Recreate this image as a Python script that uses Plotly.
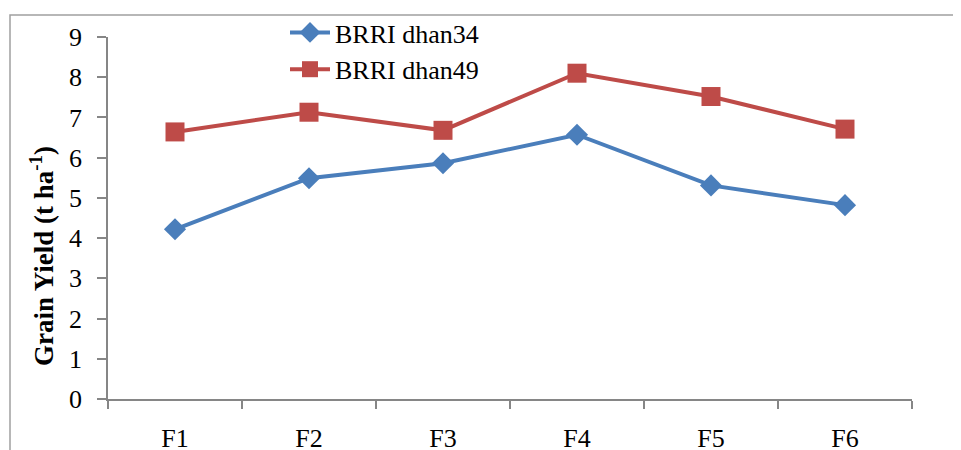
import plotly.graph_objects as go

categories = ["F1", "F2", "F3", "F4", "F5", "F6"]
dhan34 = [4.22, 5.49, 5.86, 6.57, 5.31, 4.82]
dhan49 = [6.64, 7.13, 6.68, 8.10, 7.52, 6.71]
series_names = ["BRRI dhan34", "BRRI dhan49"]
y_title = "<b>Grain Yield (t ha<sup>-1</sup>)</b>"

FONT = "Liberation Serif"
W, H = 961, 450
OX, OY = 8, 8  # page body margin
# desired screen positions of plot area
SX0, SX1, SY0, SY1 = 108, 912, 37, 399
L, T = SX0 - OX, SY0 - OY
R, B = W - (SX1 - OX), H - (SY1 - OY)
pw, ph = W - L - R, H - T - B


def px(sx):
    return (sx - OX - L) / pw


def py(sy):
    return (H - B - (sy - OY)) / ph


fig = go.Figure()
fig.add_trace(go.Scatter(
    x=categories, y=dhan34, name=series_names[0], mode="lines+markers",
    line=dict(color="#4a7ebb", width=4),
    marker=dict(symbol="diamond", size=17, color="#4a7ebb"),
))
fig.add_trace(go.Scatter(
    x=categories, y=dhan49, name=series_names[1], mode="lines+markers",
    line=dict(color="#be4b48", width=4),
    marker=dict(symbol="square", size=19, color="#be4b48"),
))

axis_col = "#868686"
fig.update_xaxes(
    type="category", range=[-0.5, 5.5], showline=True, linecolor=axis_col, linewidth=1.5,
    ticks="outside", tickson="boundaries", ticklen=8, tickcolor=axis_col, tickwidth=1.5,
    showgrid=False, zeroline=False, ticklabelstandoff=15, automargin=False,
    tickfont=dict(family=FONT, size=26, color="black"),
)
fig.update_yaxes(
    range=[0, 9], dtick=1, showline=True, linecolor=axis_col, linewidth=1.5,
    ticks="outside", ticklen=9, tickcolor=axis_col, tickwidth=1.5,
    showgrid=False, zeroline=False, ticklabelstandoff=10, automargin=False,
    tickfont=dict(family=FONT, size=26, color="black"),
)

fig.add_annotation(text=y_title, xref="paper", yref="paper", x=px(42), y=py(256),
                   xanchor="center", yanchor="middle", textangle=-90, showarrow=False,
                   font=dict(family=FONT, size=27, color="black"))

# outer chart frame
fig.add_shape(type="rect", xref="paper", yref="paper", x0=px(10), x1=px(W + 30),
              y0=py(H + 30), y1=py(15), line=dict(color="#a0a0a0", width=1.5),
              layer="below")

fig.update_layout(
    width=W, height=H, margin=dict(l=L, r=R, t=T, b=B, autoexpand=False),
    plot_bgcolor="white", paper_bgcolor="white",
    font=dict(family=FONT, size=26, color="black"),
    showlegend=True,
    legend=dict(x=px(285), y=py(9), xanchor="left", yanchor="top",
                bgcolor="rgba(0,0,0,0)", font=dict(family=FONT, size=26),
                itemwidth=40, tracegroupgap=0),
)

fig.write_html("out.html")
